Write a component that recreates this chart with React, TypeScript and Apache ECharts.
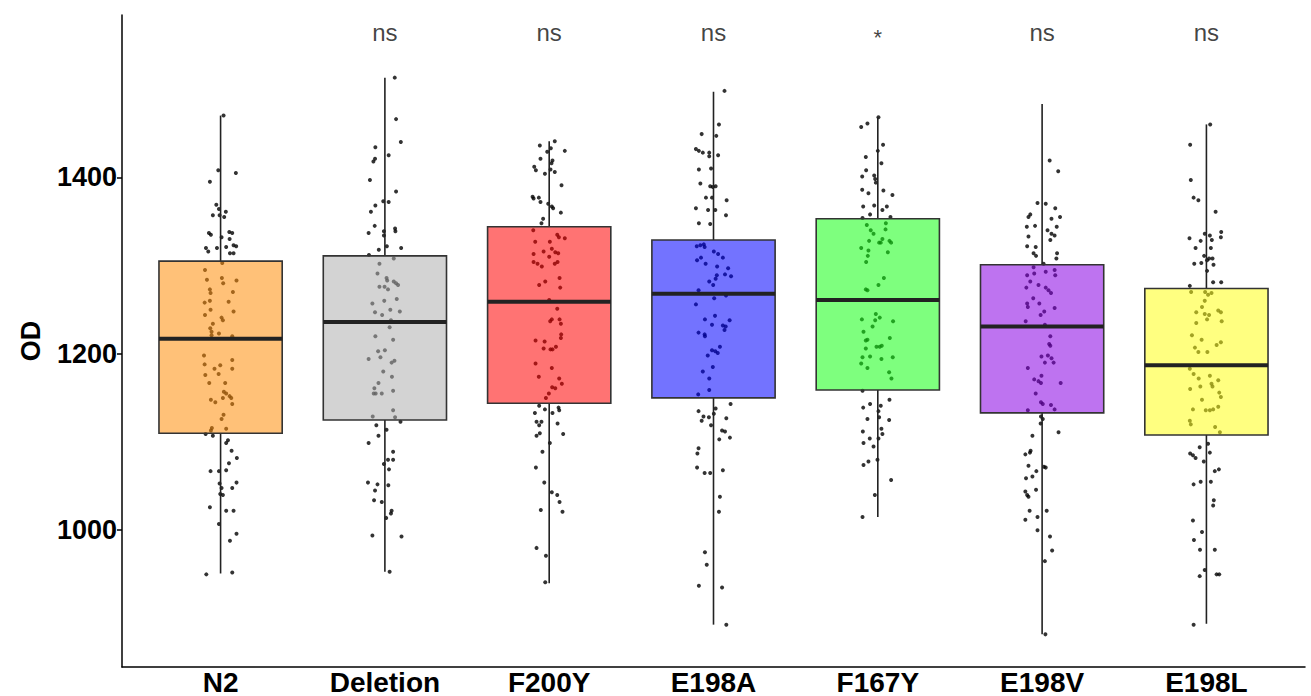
import React, { useEffect, useRef } from "react";
import * as echarts from "echarts";

const categories = ["N2", "Deletion", "F200Y", "E198A", "F167Y", "E198V", "E198L"];
const boxMin = [951, 953, 940, 893, 1015, 882, 894];
const boxQ1 = [1110, 1125, 1144, 1150, 1159, 1133, 1108];
const boxMedian = [1217, 1236, 1259, 1268, 1261, 1231, 1187];
const boxQ3 = [1305, 1311, 1344, 1329, 1353, 1301, 1274];
const boxMax = [1470, 1513, 1441, 1497, 1468, 1483, 1460];
const sigLabels = ["", "ns", "ns", "ns", "*", "ns", "ns"];
const sigLevel = 1564;
const yTicks = [1000, 1200, 1400];

// jittered observations: [horizontal jitter offset, OD]
const n2Points = [[0.018,1470],[-0.014,1408],[0.093,1405],[-0.065,1395],[-0.026,1369],[-0.010,1364],[0.032,1361],[-0.047,1357],[-0.006,1357],[0.022,1355],[-0.071,1337],[-0.059,1335],[0.053,1338],[0.071,1337],[0.006,1332],[-0.089,1320],[-0.075,1316],[-0.022,1320],[0.055,1330],[0.079,1323],[0.095,1322],[0.057,1314],[0.079,1314],[0.034,1321],
[0.010,1303],[-0.095,1295],[-0.083,1284],[0.008,1286],[0.016,1280],[0.097,1283],[-0.065,1273],[-0.061,1269],[0.075,1270],[-0.097,1258],[-0.065,1260],[0.049,1259],[-0.095,1244],[-0.061,1250],[0.079,1248],[0.006,1241],[0.014,1238],[-0.047,1234],[-0.063,1229],[-0.055,1225],[-0.010,1223],[0.071,1220],[-0.055,1221],
[-0.101,1198],[-0.097,1188],[-0.037,1183],[-0.002,1187],[0.071,1193],[0.071,1183],[-0.093,1176],[-0.012,1177],[-0.069,1167],[0.028,1167],[0.020,1157],[0.034,1155],[0.055,1152],[0.065,1150],[0.014,1150],[-0.059,1148],[-0.032,1145],[0.071,1143],[0.018,1131],[0.006,1126],[-0.053,1116],[-0.059,1113],[0.034,1115],
[-0.091,1109],[-0.047,1107],[0.045,1102],[0.034,1099],[0.067,1090],[0.099,1082],[0.051,1076],[-0.061,1067],[-0.010,1067],[0.034,1068],[-0.006,1053],[0.097,1054],[0.006,1048],[0.071,1048],[-0.002,1041],[0.014,1040],[-0.065,1026],[0.034,1022],[0.079,1022],[-0.010,1007],[0.097,996],[0.057,988],[-0.087,950],[0.071,952]];

const deletionPoints = [[0.060,1513],[0.068,1466],[0.097,1440],[-0.058,1434],[0.023,1425],[-0.060,1421],[-0.070,1418],[-0.091,1397],[0.068,1384],[-0.010,1373],[0.023,1372],[-0.058,1368],[-0.085,1361],[-0.062,1345],[0.062,1342],[0.064,1339],[-0.006,1339],[-0.099,1337],[-0.006,1334],[0.012,1322],[-0.037,1318],[0.099,1320],[-0.097,1312],[0.054,1308],
[-0.033,1302],[-0.045,1291],[0.010,1286],[0.014,1283],[0.054,1282],[0.068,1280],[0.080,1278],[-0.033,1276],[-0.002,1276],[0.019,1273],[-0.076,1257],[-0.004,1260],[0.072,1262],[-0.060,1247],[-0.017,1244],[0.033,1250],[0.091,1248],[0.037,1238],[0.029,1230],
[-0.058,1220],[0.050,1216],[-0.041,1203],[0.000,1204],[-0.099,1194],[-0.027,1196],[0.041,1190],[0.058,1192],[-0.010,1180],[0.043,1174],[-0.039,1167],[-0.064,1161],[-0.068,1155],[-0.056,1155],[-0.019,1155],[0.050,1158],[0.050,1136],[-0.074,1129],[0.062,1128],
[0.095,1123],[-0.052,1119],[0.010,1114],[-0.039,1107],[-0.099,1099],[0.050,1089],[0.019,1080],[0.050,1080],[-0.006,1075],[0.025,1069],[-0.103,1054],[-0.045,1052],[0.021,1051],[-0.060,1045],[-0.066,1034],[-0.019,1032],[0.041,1022],[0.037,1019],[0.008,1014],[-0.076,994],[0.101,993],[0.029,953]];

const f200yPoints = [[0.034,1441],[-0.057,1436],[0.095,1430],[-0.012,1429],[0.010,1433],[-0.053,1421],[0.020,1419],[0.014,1416],[-0.091,1412],[-0.081,1408],[-0.026,1404],[0.034,1406],[0.008,1409],[0.075,1391],[-0.101,1378],[-0.095,1376],[-0.063,1377],[-0.053,1372],[-0.006,1370],[0.016,1367],[0.024,1365],[0.071,1360],[-0.037,1353],[-0.047,1348],
[-0.097,1340],[0.049,1335],[0.059,1332],[0.095,1331],[-0.085,1327],[0.004,1327],[-0.034,1316],[0.016,1319],[0.037,1315],[0.055,1314],[-0.095,1313],[0.000,1310],[-0.095,1304],[-0.071,1302],[-0.045,1299],[0.051,1304],[0.034,1302],[-0.024,1282],[-0.061,1278],[0.063,1286],[0.067,1275],[0.000,1261],
[0.049,1251],[0.006,1237],[0.016,1239],[0.063,1239],[0.071,1234],[0.073,1222],[0.071,1218],[-0.083,1215],[-0.028,1214],[-0.034,1206],[0.008,1205],[0.020,1205],[0.041,1208],[-0.083,1189],[0.016,1184],[-0.063,1174],[0.061,1172],[0.077,1166],[0.018,1162],[0.037,1161],[-0.002,1155],[-0.020,1150],
[-0.061,1141],[-0.026,1137],[0.020,1133],[0.057,1139],[0.061,1136],[-0.087,1133],[-0.077,1123],[-0.061,1119],[-0.047,1123],[0.051,1121],[-0.057,1110],[-0.077,1107],[0.085,1109],[0.004,1099],[-0.041,1089],[-0.081,1071],[-0.030,1054],[0.016,1043],[0.049,1040],[0.063,1032],[-0.051,1023],[0.081,1021],[-0.077,980],[-0.020,971],[-0.024,941]];

const e198aPoints = [[0.067,1498],[0.033,1460],[-0.072,1449],[0.017,1447],[-0.107,1432],[-0.089,1430],[-0.065,1428],[-0.026,1428],[-0.026,1424],[0.028,1425],[-0.089,1409],[-0.015,1410],[-0.080,1393],[-0.020,1390],[-0.004,1389],[0.013,1390],[-0.046,1377],[-0.009,1377],[0.080,1374],[-0.107,1365],[-0.033,1363],[0.011,1363],[0.076,1357],[-0.089,1348],[-0.020,1347],
[-0.102,1322],[-0.080,1323],[-0.059,1324],[-0.054,1321],[0.002,1316],[0.028,1313],[0.057,1309],[-0.100,1306],[-0.076,1309],[-0.048,1302],[0.022,1299],[0.089,1297],[0.070,1290],[0.107,1288],[0.020,1289],[0.013,1285],[-0.026,1282],[-0.002,1278],[-0.091,1272],[0.076,1266],
[0.004,1263],[-0.107,1256],[-0.052,1239],[0.009,1243],[0.098,1238],[-0.009,1233],[0.057,1232],[0.074,1231],[0.067,1227],[-0.091,1224],[-0.054,1222],[-0.052,1220],[0.039,1208],[-0.009,1204],[0.011,1203],[0.026,1201],[-0.035,1198],[-0.004,1185],[-0.065,1180],[-0.026,1172],[-0.026,1159],[-0.093,1154],
[0.104,1143],[-0.091,1135],[0.013,1138],[-0.061,1129],[-0.028,1128],[0.002,1132],[0.078,1127],[-0.072,1124],[-0.015,1119],[0.052,1113],[0.070,1112],[0.035,1103],[0.100,1105],[-0.091,1093],[-0.098,1087],[-0.100,1071],[-0.054,1065],[-0.020,1065],[0.057,1068],[0.039,1038],[0.033,1021],[-0.052,975],[-0.041,961],[-0.089,937],[0.052,935],[0.078,893]];

const f167yPoints = [[0.004,1468],[-0.063,1461],[-0.101,1457],[0.032,1437],[0.000,1430],[-0.073,1423],[0.022,1416],[-0.071,1408],[-0.022,1402],[-0.095,1401],[-0.016,1398],[-0.012,1394],[-0.095,1386],[-0.057,1382],[0.034,1385],[0.089,1380],[-0.089,1367],[-0.022,1368],[0.055,1367],[0.028,1363],[-0.047,1358],[-0.093,1354],[0.077,1355],
[-0.067,1346],[0.049,1348],[-0.043,1340],[-0.026,1336],[0.047,1341],[0.028,1330],[0.008,1326],[0.018,1326],[-0.053,1328],[0.071,1328],[0.081,1326],[-0.101,1320],[-0.057,1317],[0.061,1315],[-0.061,1311],[-0.071,1304],[0.037,1286],[0.004,1278],[-0.073,1273],[-0.063,1272],
[-0.012,1245],[-0.097,1239],[-0.016,1238],[0.012,1241],[0.093,1237],[-0.032,1231],[-0.087,1225],[-0.063,1216],[-0.073,1215],[-0.008,1208],[0.012,1208],[0.024,1209],[0.073,1218],[-0.073,1206],[-0.047,1197],[-0.093,1196],[0.022,1194],[0.091,1196],[-0.101,1189],[-0.063,1184],[0.069,1179],[0.083,1172],
[-0.093,1158],[0.071,1148],[-0.047,1143],[-0.089,1139],[0.018,1141],[0.004,1135],[-0.063,1126],[0.008,1128],[0.069,1125],[0.022,1115],[-0.091,1112],[0.028,1109],[-0.049,1104],[0.004,1104],[-0.087,1099],[-0.026,1095],[-0.002,1080],[-0.057,1078],[-0.087,1074],[0.081,1057],[-0.018,1040],[-0.093,1015]];

const e198vPoints = [[0.046,1419],[0.098,1407],[-0.028,1371],[0.022,1370],[0.080,1365],[-0.072,1358],[-0.083,1355],[0.057,1353],[0.109,1355],[-0.093,1344],[-0.043,1345],[0.033,1340],[0.089,1344],[-0.083,1333],[0.057,1336],[0.076,1334],[0.050,1329],[-0.091,1322],[-0.039,1321],[-0.052,1314],[-0.037,1311],[0.091,1314],[0.087,1308],[0.009,1302],
[-0.052,1298],[0.022,1293],[0.076,1295],[-0.048,1291],[-0.091,1289],[0.080,1289],[-0.072,1282],[-0.022,1278],[0.022,1275],[0.039,1272],[0.054,1269],[-0.096,1275],[-0.054,1263],[-0.091,1257],[-0.087,1253],[-0.017,1257],[0.013,1248],[0.076,1252],[-0.009,1244],[-0.100,1237],[0.017,1233],
[0.050,1220],[0.043,1211],[0.050,1209],[-0.004,1197],[0.035,1198],[0.057,1195],[0.070,1190],[0.017,1190],[-0.087,1184],[-0.004,1175],[-0.048,1171],[-0.022,1169],[-0.007,1167],[0.113,1167],[-0.039,1155],[-0.007,1145],[0.004,1143],[0.054,1142],[0.076,1137],[-0.087,1136],
[-0.007,1129],[0.004,1126],[-0.009,1121],[0.100,1111],[-0.059,1107],[-0.070,1090],[-0.102,1086],[-0.074,1088],[-0.083,1073],[0.011,1072],[0.022,1071],[-0.035,1067],[-0.098,1059],[-0.059,1061],[-0.102,1044],[-0.037,1046],[-0.091,1040],[-0.083,1038],[-0.076,1022],[0.028,1022],[-0.102,1012],[-0.028,1015],[-0.028,1000],[0.048,993],[0.061,977],[0.017,965],[0.020,882]];

const e198lPoints = [[0.023,1460],[-0.099,1437],[-0.095,1397],[-0.078,1377],[-0.049,1374],[0.056,1361],[-0.010,1336],[0.021,1334],[0.090,1338],[0.088,1332],[-0.103,1331],[-0.035,1328],[0.033,1329],[-0.066,1320],[0.027,1320],[-0.014,1311],[0.016,1308],[0.037,1308],[0.004,1306],[-0.074,1302],[-0.031,1303],[0.043,1301],[0.004,1294],[0.041,1281],[0.090,1281],[-0.101,1277],
[-0.093,1270],[-0.008,1270],[0.031,1269],[0.010,1267],[-0.010,1260],[-0.027,1253],[-0.062,1247],[-0.010,1245],[0.016,1244],[0.004,1239],[0.072,1249],[0.088,1247],[0.093,1237],[-0.062,1235],[-0.088,1221],[-0.029,1216],[0.088,1213],[0.062,1210],[-0.070,1207],[-0.049,1202],[0.006,1202],
[-0.101,1183],[-0.078,1177],[-0.047,1172],[0.021,1175],[0.031,1166],[0.037,1163],[0.072,1170],[-0.099,1160],[-0.037,1163],[0.078,1156],[0.088,1151],[-0.027,1148],[-0.004,1136],[0.021,1136],[0.041,1137],[0.072,1140],[-0.082,1137],[-0.101,1124],[-0.095,1120],[0.053,1117],[0.082,1111],
[0.010,1098],[-0.041,1094],[-0.099,1087],[-0.082,1085],[-0.066,1082],[-0.016,1078],[0.021,1088],[0.051,1067],[0.076,1069],[-0.078,1052],[-0.035,1055],[0.027,1055],[0.045,1034],[0.041,1028],[-0.082,1011],[-0.027,998],[-0.076,989],[-0.039,978],[0.051,978],[0.078,950],[-0.041,948],[-0.010,955],[0.062,950],[-0.078,893]];

const groupPoints = [n2Points, deletionPoints, f200yPoints, e198aPoints, f167yPoints, e198vPoints, e198lPoints];

const boxColors = [
  "rgba(255,142,10,0.55)",
  "rgba(175,175,175,0.55)",
  "rgba(255,0,0,0.55)",
  "rgba(0,0,255,0.55)",
  "rgba(20,255,20,0.55)",
  "rgba(137,0,228,0.55)",
  "rgba(255,255,23,0.55)",
];

const FONT = "'Liberation Sans', Arial, Helvetica, sans-serif";

export default function App() {
  const ref = useRef<HTMLDivElement>(null);

  useEffect(() => {
    if (!ref.current) return;
    const chart = echarts.init(ref.current, null, { renderer: "svg" });

    const scatterData: number[][] = [];
    groupPoints.forEach((pts, gi) => {
      pts.forEach((p) => scatterData.push([gi + p[0], p[1]]));
    });

    const boxData = categories.map((_, i) => [i, boxMin[i], boxQ1[i], boxMedian[i], boxQ3[i], boxMax[i]]);

    const sigData = sigLabels
      .map((s, i) => ({ s, i }))
      .filter((d) => d.s !== "")
      .map((d) => ({
        value: [d.i, sigLevel, d.s],
        label: d.s === "*" ? { fontSize: 22, offset: [0, 5] } : undefined,
      }));

    const option: any = {
      animation: false,
      backgroundColor: "#ffffff",
      grid: { left: 122, right: 6, top: 15, bottom: 29, containLabel: false },
      xAxis: {
        type: "value",
        min: -0.6,
        max: 6.6,
        splitLine: { show: false },
        axisLine: { show: true, onZero: false, lineStyle: { color: "#000", width: 1.5 } },
        axisTick: { show: false },
        axisLabel: {
          customValues: categories.map((_, i) => i),
          formatter: (v: number) => categories[Math.round(v)] ?? "",
          fontFamily: FONT,
          fontWeight: "bold",
          fontSize: 28,
          color: "#000",
          margin: 1,
        },
      },
      yAxis: {
        type: "value",
        min: 845,
        max: 1584,
        splitLine: { show: false },
        axisLine: { show: true, onZero: false, lineStyle: { color: "#000", width: 1.5 } },
        axisTick: { show: true, customValues: yTicks, length: 5, lineStyle: { color: "#000", width: 1.5 } },
        axisLabel: {
          customValues: yTicks,
          formatter: (v: number) => String(v),
          fontFamily: FONT,
          fontWeight: "bold",
          fontSize: 27,
          color: "#000",
          margin: 5,
        },
        name: "OD",
        nameLocation: "middle",
        nameRotate: 90,
        nameGap: 78,
        nameTextStyle: { fontFamily: FONT, fontWeight: "bold", fontSize: 27, color: "#000" },
      },
      series: [
        {
          type: "scatter",
          z: 1,
          data: scatterData,
          symbol: "circle",
          symbolSize: 4,
          itemStyle: { color: "#000" },
          silent: true,
        },
        {
          type: "custom",
          z: 2,
          data: boxData,
          encode: { x: 0, y: [1, 2, 3, 4, 5] },
          renderItem: (params: any, api: any) => {
            const i = api.value(0);
            const pMin = api.coord([i, api.value(1)]);
            const pQ1 = api.coord([i, api.value(2)]);
            const pMed = api.coord([i, api.value(3)]);
            const pQ3 = api.coord([i, api.value(4)]);
            const pMax = api.coord([i, api.value(5)]);
            const w = api.size([0.75, 0])[0];
            const x0 = pQ1[0] - w / 2;
            return {
              type: "group",
              children: [
                {
                  type: "line",
                  shape: { x1: pQ3[0], y1: pQ3[1], x2: pMax[0], y2: pMax[1] },
                  style: { stroke: "#222", lineWidth: 1.6 },
                },
                {
                  type: "line",
                  shape: { x1: pQ1[0], y1: pQ1[1], x2: pMin[0], y2: pMin[1] },
                  style: { stroke: "#222", lineWidth: 1.6 },
                },
                {
                  type: "rect",
                  shape: { x: x0, y: pQ3[1], width: w, height: pQ1[1] - pQ3[1] },
                  style: { fill: boxColors[params.dataIndex], stroke: "#333", lineWidth: 1.6 },
                },
                {
                  type: "line",
                  shape: { x1: x0, y1: pMed[1], x2: x0 + w, y2: pMed[1] },
                  style: { stroke: "#222", lineWidth: 4 },
                },
              ],
            };
          },
        },
        {
          type: "scatter",
          z: 3,
          data: sigData,
          symbolSize: 1,
          itemStyle: { color: "rgba(0,0,0,0)" },
          silent: true,
          label: {
            show: true,
            position: "inside",
            formatter: (p: any) => p.value[2],
            fontFamily: FONT,
            fontSize: 24,
            color: "#111",
          },
        },
      ],
    };

    chart.setOption(option);
    return () => chart.dispose();
  }, []);

  return (
    <div
      ref={ref}
      style={{ position: "fixed", left: 0, top: 0, width: 1311, height: 696, background: "#fff" }}
    />
  );
}
